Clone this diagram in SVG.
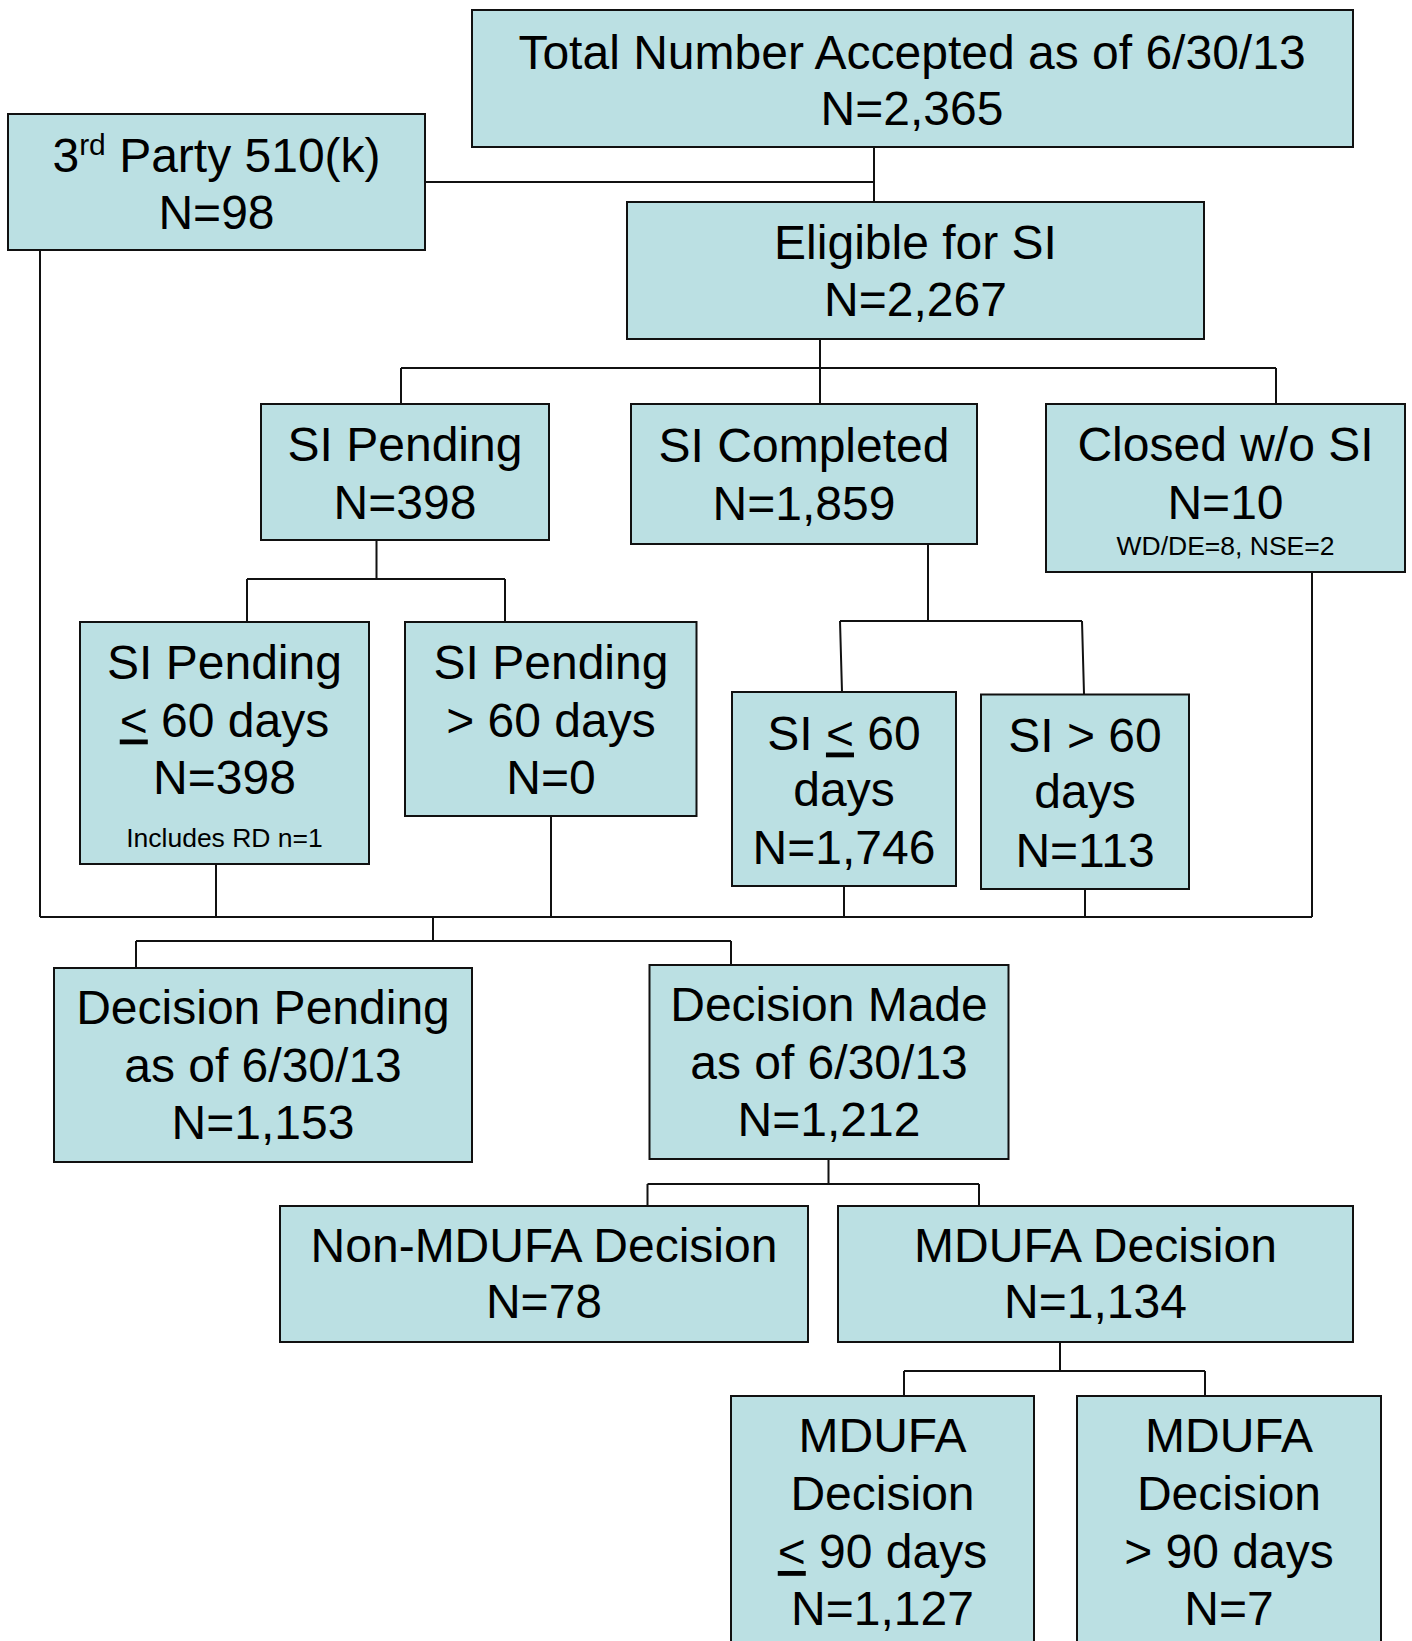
<svg xmlns="http://www.w3.org/2000/svg" width="1412" height="1641" viewBox="0 0 1412 1641">
  <style>
    .box { fill: #bbe0e3; stroke: #111; stroke-width: 2; }
    .wire { fill: none; stroke: #111; stroke-width: 2; }
    text { font-family: "Liberation Sans", Arial, sans-serif; fill: #000; text-anchor: middle; }
    .big { font-size: 48px; }
    .small { font-size: 26.5px; }
    .sup { font-size: 30px; }
  </style>
  <rect width="1412" height="1641" fill="#fff"/>

  <!-- connectors -->
  <g id="connectors" class="wire">
    <path d="M425,182 H874 M874,147 V202"/>
    <path d="M820,339 V404 M401,368 H1276 M401,368 V404 M1276,368 V404"/>
    <path d="M376.5,540 V579 M247,579 H505 M247,579 V622 M505,579 V622"/>
    <path d="M928,544 V621 M840,621 H1082 M840,621 L842,692 M1082,621 L1084,694"/>
    <path d="M40,250 V917 M40,917 H1312"/>
    <path d="M216,864 V917 M551,816 V917 M844,886 V917 M1085,889 V917 M1312,572 V917"/>
    <path d="M433,917 V941 M136,941 H731 M136,941 V968 M731,941 V965"/>
    <path d="M828.5,1159 V1184 M647.5,1184 H979 M647.5,1184 V1206 M979,1184 V1206"/>
    <path d="M1060,1342 V1371 M904,1371 H1205 M904,1371 V1396 M1205,1371 V1396"/>
  </g>

  <g id="total">
    <rect class="box" x="472" y="10" width="881" height="137"/>
    <text class="big" x="912" y="69">Total Number Accepted as of 6/30/13</text>
    <text class="big" x="912" y="125">N=2,365</text>
  </g>

  <g id="third-party">
    <rect class="box" x="8" y="114" width="417" height="136"/>
    <text class="big" x="216.5" y="172">3<tspan class="sup" dy="-17">rd</tspan><tspan dy="17"> Party 510(k)</tspan></text>
    <text class="big" x="216.5" y="229">N=98</text>
  </g>

  <g id="eligible">
    <rect class="box" x="627" y="202" width="577" height="137"/>
    <text class="big" x="915.5" y="259">Eligible for SI</text>
    <text class="big" x="915.5" y="316">N=2,267</text>
  </g>

  <g id="si-pending">
    <rect class="box" x="261" y="404" width="288" height="136"/>
    <text class="big" x="405" y="461">SI Pending</text>
    <text class="big" x="405" y="518.5">N=398</text>
  </g>

  <g id="si-completed">
    <rect class="box" x="631" y="404" width="346" height="140"/>
    <text class="big" x="804" y="461.5">SI Completed</text>
    <text class="big" x="804" y="519.5">N=1,859</text>
  </g>

  <g id="closed">
    <rect class="box" x="1046" y="404" width="359" height="168"/>
    <text class="big" x="1225.5" y="460.5">Closed w/o SI</text>
    <text class="big" x="1225.5" y="518.5">N=10</text>
    <text class="small" x="1225.5" y="555">WD/DE=8, NSE=2</text>
  </g>

  <g id="si-pending-le60">
    <rect class="box" x="80" y="622" width="289" height="242"/>
    <text class="big" x="224.5" y="678.5">SI Pending</text>
    <text class="big" x="224.5" y="736.5"><tspan text-decoration="underline">&lt;</tspan> 60 days</text>
    <text class="big" x="224.5" y="794">N=398</text>
    <text class="small" x="224.5" y="847">Includes RD n=1</text>
  </g>

  <g id="si-pending-gt60">
    <rect class="box" x="405" y="622" width="291.5" height="194"/>
    <text class="big" x="551" y="678.5">SI Pending</text>
    <text class="big" x="551" y="736.5">&gt; 60 days</text>
    <text class="big" x="551" y="794">N=0</text>
  </g>

  <g id="si-le60">
    <rect class="box" x="732" y="692" width="224" height="194"/>
    <text class="big" x="844" y="749.5">SI <tspan text-decoration="underline">&lt;</tspan> 60</text>
    <text class="big" x="844" y="806">days</text>
    <text class="big" x="844" y="864">N=1,746</text>
  </g>

  <g id="si-gt60">
    <rect class="box" x="981" y="694.5" width="208" height="194.5"/>
    <text class="big" x="1085" y="751.5">SI &gt; 60</text>
    <text class="big" x="1085" y="808">days</text>
    <text class="big" x="1085" y="867">N=113</text>
  </g>

  <g id="decision-pending">
    <rect class="box" x="54" y="968" width="418" height="194"/>
    <text class="big" x="263" y="1024">Decision Pending</text>
    <text class="big" x="263" y="1081.5">as of 6/30/13</text>
    <text class="big" x="263" y="1139">N=1,153</text>
  </g>

  <g id="decision-made">
    <rect class="box" x="649.5" y="965" width="359" height="194"/>
    <text class="big" x="829" y="1020.5">Decision Made</text>
    <text class="big" x="829" y="1078.5">as of 6/30/13</text>
    <text class="big" x="829" y="1136">N=1,212</text>
  </g>

  <g id="non-mdufa">
    <rect class="box" x="280" y="1206" width="528" height="136"/>
    <text class="big" x="544" y="1261.5">Non-MDUFA Decision</text>
    <text class="big" x="544" y="1318">N=78</text>
  </g>

  <g id="mdufa">
    <rect class="box" x="838" y="1206" width="515" height="136"/>
    <text class="big" x="1095.5" y="1261.5">MDUFA Decision</text>
    <text class="big" x="1095.5" y="1318">N=1,134</text>
  </g>

  <g id="mdufa-le90">
    <rect class="box" x="731" y="1396" width="303" height="270"/>
    <text class="big" x="882.5" y="1452">MDUFA</text>
    <text class="big" x="882.5" y="1510">Decision</text>
    <text class="big" x="882.5" y="1568"><tspan text-decoration="underline">&lt;</tspan> 90 days</text>
    <text class="big" x="882.5" y="1625">N=1,127</text>
  </g>

  <g id="mdufa-gt90">
    <rect class="box" x="1077" y="1396" width="304" height="270"/>
    <text class="big" x="1229" y="1452">MDUFA</text>
    <text class="big" x="1229" y="1510">Decision</text>
    <text class="big" x="1229" y="1568">&gt; 90 days</text>
    <text class="big" x="1229" y="1625">N=7</text>
  </g>
</svg>
